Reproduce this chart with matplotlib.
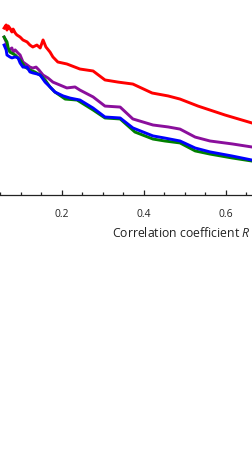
import matplotlib
matplotlib.use("Agg")
import matplotlib.pyplot as plt
from matplotlib.ticker import MultipleLocator

plt.rcParams['font.family'] = ['Open Sans', 'DejaVu Sans']
plt.rcParams['mathtext.fontset'] = 'custom'
plt.rcParams['mathtext.rm'] = 'Open Sans'
plt.rcParams['mathtext.it'] = 'Open Sans:italic'

# data (x = correlation coefficient R, y = relative score)
red_x = [0.060, 0.065, 0.067, 0.070, 0.074, 0.079, 0.082, 0.087, 0.091, 0.099, 0.106, 0.116,
         0.123, 0.130, 0.140, 0.148, 0.155, 0.162, 0.172, 0.179, 0.191, 0.213, 0.245, 0.277,
         0.306, 0.338, 0.374, 0.421, 0.460, 0.489, 0.533, 0.599, 0.665, 0.684]
red_y = [0.856, 0.872, 0.846, 0.867, 0.856, 0.836, 0.851, 0.831, 0.821, 0.810, 0.795, 0.785,
         0.769, 0.759, 0.769, 0.754, 0.795, 0.759, 0.733, 0.708, 0.682, 0.672, 0.646, 0.636,
         0.590, 0.579, 0.569, 0.523, 0.508, 0.492, 0.456, 0.410, 0.369, 0.359]

purple_x = [0.060, 0.065, 0.067, 0.072, 0.079, 0.082, 0.087, 0.094, 0.099, 0.106, 0.116, 0.123,
            0.130, 0.138, 0.145, 0.155, 0.167, 0.179, 0.196, 0.213, 0.233, 0.245, 0.277, 0.306,
            0.343, 0.374, 0.423, 0.460, 0.489, 0.526, 0.562, 0.616, 0.665, 0.684]
purple_y = [0.810, 0.785, 0.754, 0.744, 0.754, 0.733, 0.744, 0.728, 0.718, 0.682, 0.667, 0.656,
            0.651, 0.656, 0.641, 0.615, 0.600, 0.579, 0.564, 0.549, 0.554, 0.538, 0.503, 0.456,
            0.451, 0.390, 0.359, 0.349, 0.338, 0.297, 0.277, 0.262, 0.246, 0.241]

green_x = [0.060, 0.067, 0.070, 0.074, 0.087, 0.099, 0.111, 0.123, 0.135, 0.148, 0.160, 0.172,
           0.184, 0.209, 0.238, 0.277, 0.306, 0.343, 0.379, 0.423, 0.452, 0.489, 0.526, 0.562,
           0.616, 0.665, 0.684]
green_y = [0.810, 0.785, 0.754, 0.733, 0.718, 0.692, 0.656, 0.641, 0.631, 0.615, 0.590, 0.554,
           0.528, 0.492, 0.487, 0.436, 0.395, 0.390, 0.323, 0.287, 0.277, 0.267, 0.226, 0.210,
           0.190, 0.174, 0.169]

blue_x = [0.060, 0.065, 0.067, 0.074, 0.079, 0.087, 0.094, 0.099, 0.106, 0.116, 0.123, 0.130,
          0.140, 0.148, 0.160, 0.172, 0.184, 0.204, 0.221, 0.245, 0.277, 0.306, 0.343, 0.374,
          0.423, 0.452, 0.489, 0.526, 0.562, 0.616, 0.665, 0.684]
blue_y = [0.769, 0.744, 0.718, 0.708, 0.703, 0.708, 0.703, 0.677, 0.656, 0.656, 0.631, 0.626,
          0.621, 0.615, 0.579, 0.554, 0.528, 0.508, 0.497, 0.487, 0.446, 0.400, 0.395, 0.344,
          0.303, 0.292, 0.277, 0.241, 0.221, 0.200, 0.179, 0.174]

series = [
    (red_x, red_y, '#ff0000'),
    (purple_x, purple_y, '#8a0f9c'),
    (green_x, green_y, '#008000'),
    (blue_x, blue_y, '#0000ff'),
]

fig = plt.figure(figsize=(2.53, 4.58), dpi=100)
ax = fig.add_axes([0, 1 - 195 / 458, 1, 195 / 458])

for xs, ys, c in series:
    ax.plot(xs, ys, color=c, lw=2.1, solid_joinstyle='round')

ax.set_xlim(0.05, 0.667)
ax.set_ylim(0, 1)

for s in ['left', 'right', 'top']:
    ax.spines[s].set_visible(False)
ax.spines['bottom'].set_linewidth(0.9)
ax.spines['bottom'].set_color('#222222')
ax.set_yticks([])

ax.xaxis.set_major_locator(MultipleLocator(0.2))
ax.xaxis.set_minor_locator(MultipleLocator(0.05))
ax.tick_params(axis='x', which='major', direction='in', length=3.4, width=0.9,
               pad=10.3, labelsize=7.4, colors='#222222')
ax.tick_params(axis='x', which='minor', direction='in', length=2.0, width=0.9,
               colors='#222222')
ax.set_xticks([0.2, 0.4, 0.6])
ax.set_xticklabels(['0.2', '0.4', '0.6'])

fig.text(112 / 253, 1 - 232.5 / 458, 'Correlation coefficient $R$', fontsize=8.8,
         color='#222222', ha='left', va='center')

fig.savefig('out.png', dpi=100)
